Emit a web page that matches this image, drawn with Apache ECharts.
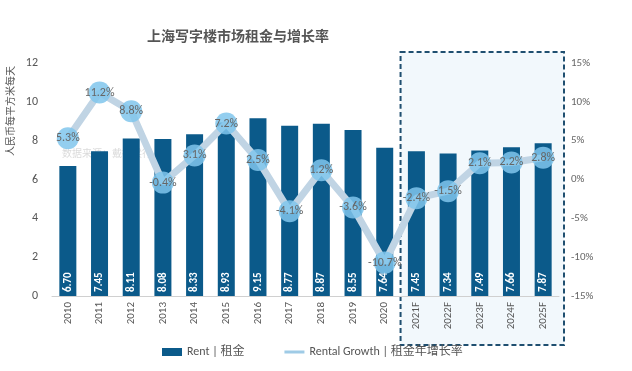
<!DOCTYPE html>
<html><head><meta charset="utf-8">
<script src="https://cdn.jsdelivr.net/npm/echarts@6/dist/echarts.min.js"></script>
<style>html,body{margin:0;padding:0;background:#fff}#c{width:632px;height:371px}</style>
</head><body><div id="c"></div>
<script>
const categories = ['2010','2011','2012','2013','2014','2015','2016','2017','2018','2019','2020','2021F','2022F','2023F','2024F','2025F'];
const rent = [6.70,7.45,8.11,8.08,8.33,8.93,9.15,8.77,8.87,8.55,7.64,7.45,7.34,7.49,7.66,7.87];
const growth = [5.3,11.2,8.8,-0.4,3.1,7.2,2.5,-4.1,1.2,-3.6,-10.7,-2.4,-1.5,2.1,2.2,2.8];
const leftTicks = [0,2,4,6,8,10,12];
const rightTicks = [-15,-10,-5,0,5,10,15];
const forecastStart = '2021F';

const font = 'Calibri, Carlito, "Liberation Sans", "Noto Sans CJK SC", sans-serif';
const chart = echarts.init(document.getElementById('c'), null, {renderer:'canvas'});
const option = {
  animation: false,
  textStyle: {fontFamily: font},
  title: {text: '上海写字楼市场租金与增长率', left: 233, top: 24, textAlign: 'center',
    textStyle: {fontSize: 14, fontWeight: 'bold', color: '#555', fontFamily: '"Noto Sans CJK SC", sans-serif'}},
  grid: {left: 52, right: 73, top: 63, bottom: 75},
  legend: {bottom: 8, left: 157, itemGap: 40, textStyle: {fontSize: 12, color: '#555', fontFamily: font},
    data: [{name: 'Rent | 租金', icon: 'rect', itemStyle: {color: '#0b5a8a'}},
           {name: 'Rental Growth | 租金年增长率', icon: 'path://M0,3 L20,3 L20,6 L0,6 Z', itemStyle: {color: '#9fcbe6'}}],
    itemWidth: 20, itemHeight: 8},
  xAxis: {type: 'category', data: categories,
    axisLine: {lineStyle: {color: '#d0d0d0'}}, axisTick: {show: false},
    axisLabel: {rotate: 90, fontSize: 11, color: '#555', margin: 6, fontFamily: font}},
  yAxis: [
    {type: 'value', min: leftTicks[0], max: leftTicks[leftTicks.length-1], interval: 2,
     splitLine: {show: false}, axisLine: {show: false}, axisTick: {show: false},
     axisLabel: {fontSize: 12, color: '#555', margin: 14, fontFamily: font}},
    {type: 'value', min: rightTicks[0], max: rightTicks[rightTicks.length-1], interval: 5,
     splitLine: {show: false}, axisLine: {show: false}, axisTick: {show: false},
     axisLabel: {fontSize: 11, color: '#666', margin: 12, formatter: v => v + '%', fontFamily: font}}
  ],
  series: [
    {name: 'Rent | 租金', type: 'bar', data: rent, barWidth: 17, z: 3,
     itemStyle: {color: '#0b5a8a'},
     label: {show: true, position: 'insideBottom', rotate: 90, align: 'left', verticalAlign: 'middle', distance: 4,
       color: '#fff', fontSize: 11, fontWeight: 'bold', formatter: p => p.value.toFixed(2), fontFamily: font}},
    {name: 'Rental Growth | 租金年增长率', type: 'line', yAxisIndex: 1, data: growth, z: 4,
     lineStyle: {color: '#c0d4e4', width: 7}, itemStyle: {color: 'rgba(128,198,236,0.85)'},
     symbol: 'circle', symbolSize: 22,
     label: {show: true, position: 'inside', color: '#666', fontSize: 12, formatter: p => p.value + '%', fontFamily: font}}
  ]
};
chart.setOption(option);

// forecast box, derived from axis pixels
const i0 = categories.indexOf(forecastStart);
const xa = chart.convertToPixel({xAxisIndex: 0}, categories[i0 - 1]);
const xb = chart.convertToPixel({xAxisIndex: 0}, categories[i0]);
const xl = chart.convertToPixel({xAxisIndex: 0}, categories[categories.length - 1]);
const step = xb - xa;
const yTop = chart.convertToPixel({yAxisIndex: 0}, leftTicks[leftTicks.length-1]);
const yBot = chart.convertToPixel({yAxisIndex: 0}, 0);
const bx = (xa + xb) / 2, bw = xl + step / 2 + 5 - bx;
chart.setOption({graphic: [
  {type: 'rect', z: -10, silent: true,
   shape: {x: bx, y: yTop - 11, width: bw, height: (yBot + 49) - (yTop - 11)},
   style: {fill: '#f2f8fc', stroke: '#1f4f70', lineWidth: 2, lineDash: [5, 3]}},
  {type: 'text', x: 10, y: 156, rotation: Math.PI / 2, silent: true,
   style: {text: '人民币每平方米每天', fill: '#555', fontSize: 10, align: 'left', verticalAlign: 'middle',
     fontFamily: '"Noto Sans CJK SC", sans-serif'}},
  {type: 'text', x: 62, y: 148, silent: true, z: 1,
   style: {text: '数据来源：戴德梁行', fill: 'rgba(150,150,150,0.35)', fontSize: 10, fontFamily: '"Noto Sans CJK SC", sans-serif'}}
]});
</script></body></html>
